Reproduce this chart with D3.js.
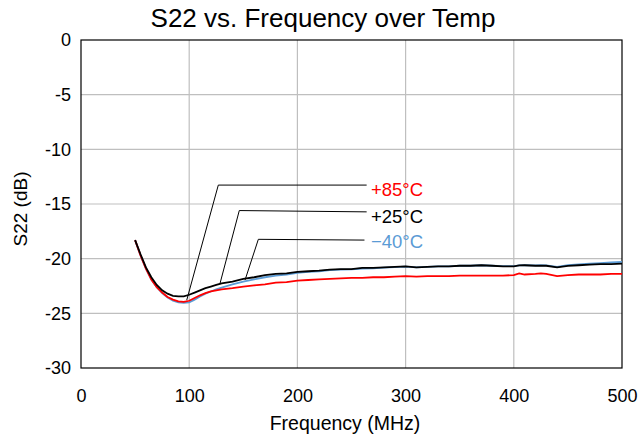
<!DOCTYPE html>
<html><head><meta charset="utf-8">
<script src="https://cdn.jsdelivr.net/npm/d3@7"></script>
<style>body{margin:0;background:#fff}svg{display:block;font-family:"Liberation Sans",Arial,sans-serif}</style>
</head><body><svg id="c" width="640" height="436"></svg>
<script>
const title = "S22 vs. Frequency over Temp";
const xLabel = "Frequency (MHz)";
const yLabel = "S22 (dB)";
const xTicks = [0,100,200,300,400,500];
const yTicks = [0,-5,-10,-15,-20,-25,-30];
const freq = [50,55,60,65,70,75,80,85,90,95,100,105,110,115,120,125,130,140,150,160,170,180,190,200,210,220,230,240,250,260,270,280,290,300,310,320,330,340,350,360,370,380,390,400,405,410,420,425,430,440,450,460,470,480,490,500];
const s25 = [-18.3,-19.6,-20.8,-21.7,-22.4,-22.9,-23.2,-23.4,-23.45,-23.45,-23.3,-23.1,-22.9,-22.7,-22.55,-22.4,-22.25,-22.1,-21.85,-21.7,-21.5,-21.4,-21.35,-21.2,-21.15,-21.1,-21.0,-20.95,-20.95,-20.85,-20.85,-20.8,-20.75,-20.7,-20.8,-20.75,-20.7,-20.7,-20.65,-20.65,-20.6,-20.65,-20.7,-20.7,-20.62,-20.6,-20.65,-20.65,-20.65,-20.8,-20.65,-20.6,-20.55,-20.5,-20.5,-20.45];
const s85 = [-18.3,-19.7,-20.9,-21.9,-22.6,-23.1,-23.5,-23.75,-23.9,-23.95,-23.85,-23.6,-23.35,-23.15,-23.0,-22.9,-22.8,-22.7,-22.55,-22.45,-22.35,-22.2,-22.15,-22.0,-21.95,-21.9,-21.85,-21.8,-21.75,-21.75,-21.7,-21.7,-21.65,-21.6,-21.65,-21.6,-21.6,-21.6,-21.55,-21.55,-21.55,-21.55,-21.55,-21.5,-21.35,-21.45,-21.4,-21.35,-21.4,-21.6,-21.5,-21.45,-21.45,-21.45,-21.4,-21.4];
const sm40 = [-18.3,-19.7,-20.9,-21.9,-22.6,-23.15,-23.55,-23.85,-24.0,-24.05,-24.0,-23.75,-23.45,-23.2,-23.0,-22.8,-22.65,-22.35,-22.1,-21.9,-21.7,-21.55,-21.45,-21.3,-21.2,-21.15,-21.05,-21.0,-20.98,-20.9,-20.88,-20.82,-20.78,-20.72,-20.8,-20.75,-20.7,-20.7,-20.65,-20.65,-20.6,-20.65,-20.68,-20.68,-20.62,-20.6,-20.62,-20.6,-20.62,-20.75,-20.6,-20.52,-20.45,-20.4,-20.35,-20.3];
const seriesNames = ["+85°C","+25°C","\u221240°C"];
const seriesColors = ["#ff0000","#000000","#5b9bd5"];
const seriesData = [s85, s25, sm40];
// annotation leader lines in data units: [tipX, tipY, elbowX, elbowY, endX, endY]
const leaders = [[97.7,-23.8,126.9,-13.27,264,-13.27],[128.5,-22.26,146.3,-15.6,264,-15.72],[151.6,-21.96,163.9,-18.23,262,-18.3]];
const labelPos = [[268,-13.67],[268,-16.1],[268,-18.45]];

const svg = d3.select("#c");
const L=81,R=622,T=40,B=368;
const x = d3.scaleLinear().domain([0,500]).range([L,R]);
const y = d3.scaleLinear().domain([0,-30]).range([T,B]);

// grid
svg.append("g").selectAll("line").data(xTicks.slice(1,-1)).join("line")
  .attr("x1",d=>x(d)).attr("x2",d=>x(d)).attr("y1",T).attr("y2",B)
  .attr("stroke","#bfbfbf").attr("stroke-width",1.2);
svg.append("g").selectAll("line").data(yTicks.slice(1,-1)).join("line")
  .attr("y1",d=>y(d)).attr("y2",d=>y(d)).attr("x1",L).attr("x2",R)
  .attr("stroke","#bfbfbf").attr("stroke-width",1.2);

// axes (labels only)
const fmt = d=>String(d);
const xa = svg.append("g").attr("transform",`translate(0,${B})`)
  .call(d3.axisBottom(x).tickValues(xTicks).tickFormat(fmt).tickSize(0).tickPadding(21));
const ya = svg.append("g").attr("transform",`translate(${L},0)`)
  .call(d3.axisLeft(y).tickValues(yTicks).tickFormat(fmt).tickSize(0).tickPadding(10));
[xa,ya].forEach(a=>{a.select(".domain").remove();a.selectAll("text").attr("font-size",18).attr("fill","#000").attr("font-family","Liberation Sans, Arial, sans-serif");});

// frame
svg.append("rect").attr("x",L).attr("y",T).attr("width",R-L).attr("height",B-T)
  .attr("fill","none").attr("stroke","#000").attr("stroke-width",1.2);

// leaders
svg.append("g").selectAll("path").data(leaders).join("path")
  .attr("d",d=>`M${x(d[0])},${y(d[1])}L${x(d[2])},${y(d[3])}L${x(d[4])},${y(d[5])}`)
  .attr("fill","none").attr("stroke","#000").attr("stroke-width",1);

// lines
const line = d3.line().x((d,i)=>x(freq[i])).y(d=>y(d));
const order=[2,0,1];
order.forEach(k=>{
  svg.append("path").datum(seriesData[k]).attr("d",line)
    .attr("fill","none").attr("stroke",seriesColors[k]).attr("stroke-width",1.8);
});

// labels
svg.append("g").selectAll("text").data(seriesNames).join("text")
  .attr("x",(d,i)=>x(labelPos[i][0])).attr("y",(d,i)=>y(labelPos[i][1]))
  .attr("dominant-baseline","central").attr("font-size",18.5)
  .attr("fill",(d,i)=>seriesColors[i]).text(d=>d);

// titles
svg.append("text").attr("x",323).attr("y",18).attr("text-anchor","middle")
  .attr("dominant-baseline","central").attr("font-size",26).text(title);
svg.append("text").attr("x",345).attr("y",423).attr("text-anchor","middle")
  .attr("dominant-baseline","central").attr("font-size",19.5).text(xLabel);
svg.append("text").attr("transform","translate(20,209) rotate(-90)").attr("text-anchor","middle")
  .attr("dominant-baseline","central").attr("font-size",19).text(yLabel);
</script></body></html>
